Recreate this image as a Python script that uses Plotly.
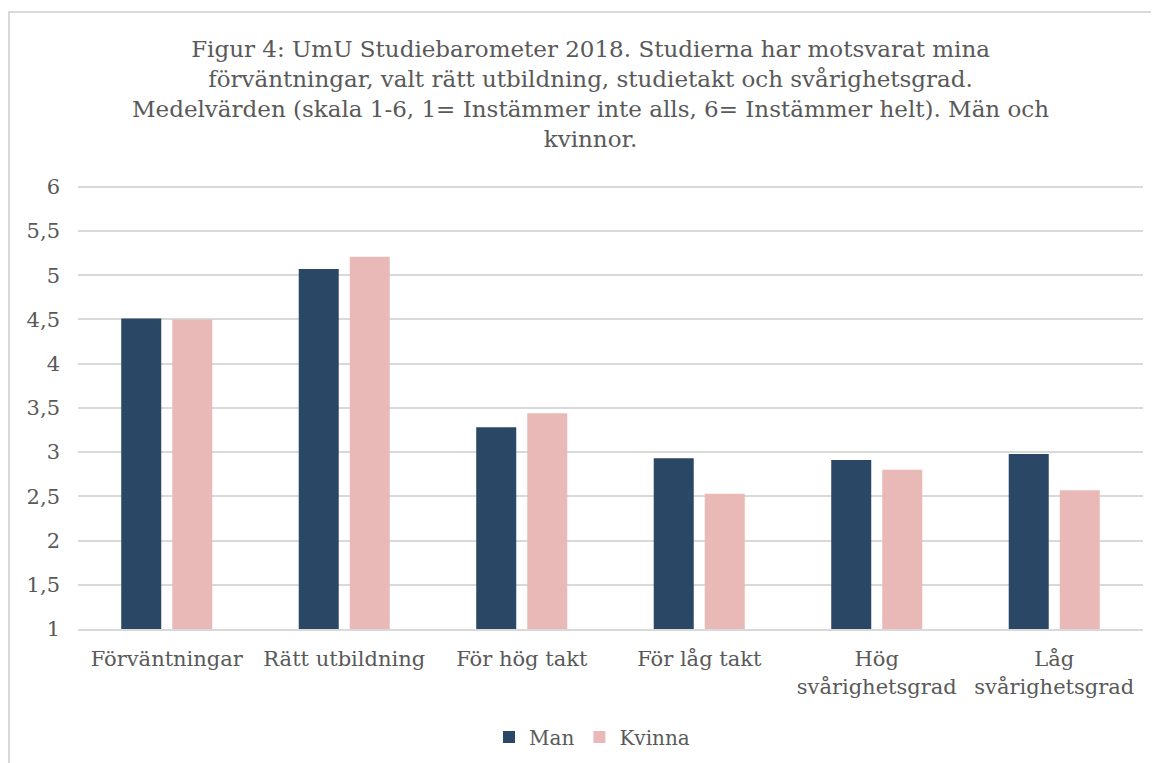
import plotly.graph_objects as go

categories = ["Förväntningar", "Rätt utbildning", "För hög takt", "För låg takt",
              "Hög<br>svårighetsgrad", "Låg<br>svårighetsgrad"]
man = [4.51, 5.07, 3.28, 2.93, 2.91, 2.98]
kvinna = [4.50, 5.21, 3.44, 2.53, 2.80, 2.57]
y_ticks = [1, 1.5, 2, 2.5, 3, 3.5, 4, 4.5, 5, 5.5, 6]
title_lines = [
    "Figur 4: UmU Studiebarometer 2018. Studierna har motsvarat mina",
    "förväntningar, valt rätt utbildning, studietakt och svårighetsgrad.",
    "Medelvärden (skala 1-6, 1= Instämmer inte alls, 6= Instämmer helt). Män och",
    "kvinnor.",
]

FONT = "DejaVu Serif"
GREY = "#595959"

# page body has an 8px default margin, so the figure is placed at (8, 8)
W, H = 1151, 755
L, T, R, B = 70, 177, 16, 134
PW, PH = W - L - R, H - T - B


def px(x):
    return (x - L) / PW


def py(y):
    return (H - B - y) / PH


fig = go.Figure()
fig.add_trace(go.Bar(name="Man", x=categories, y=[v - 1 for v in man], base=1,
                     marker=dict(color="#2a4765", line=dict(width=0))))
fig.add_trace(go.Bar(name="Kvinna", x=categories, y=[v - 1 for v in kvinna], base=1,
                     marker=dict(color="#e9b9b7", line=dict(width=0))))

fig.update_layout(
    width=W, height=H,
    margin=dict(l=L, r=R, t=T, b=B, autoexpand=False),
    paper_bgcolor="white", plot_bgcolor="white",
    separators=", ",
    barmode="group", bargap=0.425, bargroupgap=0.216,
    font=dict(family=FONT, color=GREY, size=21),
    annotations=[dict(text="<br>".join(title_lines), xref="paper", yref="paper",
                      x=px(582), y=py(86), xanchor="center", yanchor="middle",
                      showarrow=False, align="center",
                      font=dict(family=FONT, size=23, color=GREY))],
    legend=dict(orientation="h", x=(584) / W, xanchor="center",
                xref="container", yref="container",
                y=1 - 729 / H, yanchor="middle",
                font=dict(family=FONT, size=20, color=GREY), traceorder="normal",
                itemwidth=30),
    xaxis=dict(showgrid=False, showline=True, linecolor="#d9d9d9", linewidth=2,
               ticks="", automargin=False, ticklabelstandoff=10,
               tickfont=dict(family=FONT, size=21, color=GREY)),
    yaxis=dict(range=[1, 6.02], tickvals=y_ticks, showgrid=True, gridcolor="#d9d9d9",
               gridwidth=1.5, zeroline=False, showline=False, ticks="",
               automargin=False, ticklabelstandoff=17,
               tickformat=".1~f", tickfont=dict(family=FONT, size=21, color=GREY)),
    shapes=[dict(type="rect", xref="paper", yref="paper",
                 x0=px(1), x1=px(1200), y0=py(800), y1=py(4),
                 line=dict(color="#d9d9d9", width=2), fillcolor="rgba(0,0,0,0)",
                 layer="below")],
)

fig.write_html("out.html")
